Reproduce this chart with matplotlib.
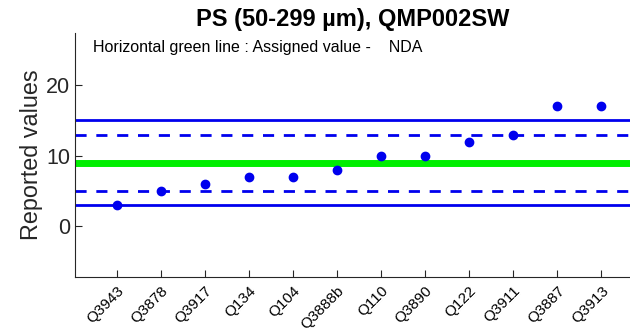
import numpy as np
import matplotlib
matplotlib.use('Agg')
import matplotlib.pyplot as plt

plt.rcParams['font.family'] = ['Liberation Sans', 'DejaVu Sans']

labs = ['Q3943', 'Q3878', 'Q3917', 'Q134', 'Q104', 'Q3888b', 'Q110',
        'Q3890', 'Q122', 'Q3911', 'Q3887', 'Q3913']
vals = [3, 5, 6, 7, 7, 8, 10, 10, 12, 13, 17, 17]
assigned = 9
inner = [5, 13]
outer = [3, 15]

fig = plt.figure(figsize=(6.3, 3.36), dpi=100)
ax = fig.add_axes([75/630, 59/336, 1 - 75/630, 244/336])

x = np.arange(1, len(vals) + 1)
ax.axhline(assigned, color='#00ee00', lw=5, zorder=1)
for v in inner:
    ax.axhline(v, color='#0000ee', lw=2, ls=(0, (4, 3.5)), zorder=1)
for v in outer:
    ax.axhline(v, color='#0000ee', lw=2, zorder=1)
ax.plot(x, vals, 'o', color='#0000ee', ms=6, zorder=3)

ax.set_xlim(0.05, 12.65)
ax.set_ylim(-7.2, 27.4)
ax.set_yticks([0, 10, 20])
ax.set_xticks(x)
ax.set_xticklabels(labs, rotation=45, ha='right', rotation_mode='anchor', fontsize=11)
ax.tick_params(axis='y', labelsize=15.5, direction='in', length=5, colors='#262626')
ax.tick_params(axis='x', direction='in', length=5, colors='#262626', pad=5)
for t in ax.get_xticklabels():
    t.set_color('black')
ax.spines['top'].set_visible(False)
ax.spines['right'].set_visible(False)
ax.spines['left'].set_color('#262626')
ax.spines['bottom'].set_color('#262626')
ax.set_ylabel('Reported values', fontsize=16.8, color='#262626', labelpad=2)
ax.set_title('PS (50-299 µm), QMP002SW', fontsize=17, fontweight='bold', pad=5)
ax.text(0.45, 25.4, 'Horizontal green line : Assigned value -    NDA', fontsize=11.5,
        va='center')

plt.savefig('out.png')
